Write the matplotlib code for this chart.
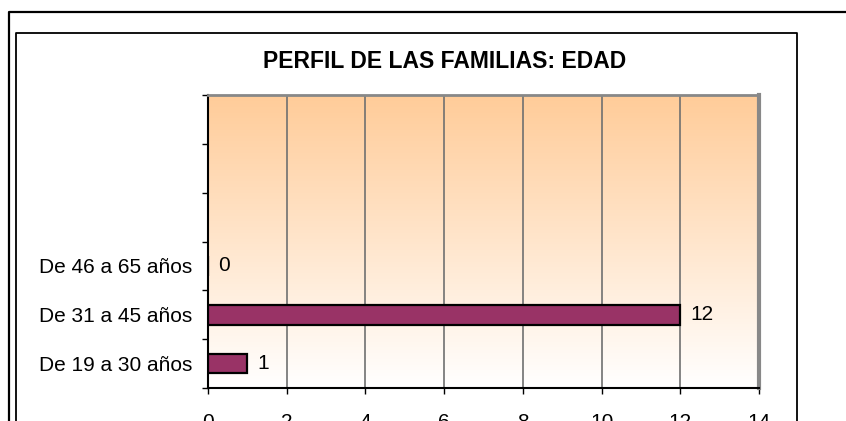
import matplotlib.pyplot as plt
import numpy as np
from matplotlib.lines import Line2D
from matplotlib.colors import LinearSegmentedColormap

plt.rcParams['font.family'] = ['Liberation Sans', 'DejaVu Sans']

# datos del grafico
categorias = ["De 19 a 30 años", "De 31 a 45 años", "De 46 a 65 años"]
valores = [1, 12, 0]
n_huecos = 6  # filas del eje (las de arriba vacias)
x_ticks = [0, 2, 4, 6, 8, 10, 12, 14]
titulo = "PERFIL DE LAS FAMILIAS: EDAD"

W, H = 846, 421
fig = plt.figure(figsize=(W / 100, H / 100), dpi=100)
fig.patch.set_facecolor('white')

def px(x, y):
    # pixeles (origen arriba-izquierda) a fraccion de figura
    return x / W, 1 - y / H

# marcos exteriores
x0, y0 = px(9, 12)
fig.add_artist(Line2D([x0, x0, 1.0], [0, y0, y0], color='black', lw=1.6))
x1, y1 = px(16, 33)
x2, _ = px(797, 33)
fig.add_artist(Line2D([x1, x1, x2, x2], [0, y1, y1, 0], color='black', lw=1.3))

# area del grafico
left, top = px(208, 95)
right, bottom = px(759, 388)
ax = fig.add_axes([left, bottom, right - left, top - bottom])

# fondo degradado melocoton -> blanco
cmap = LinearSegmentedColormap.from_list('fondo', ['#FFFFFF', '#FFCC99'])
grad = np.linspace(0, 1, 256).reshape(-1, 1)
ax.imshow(grad, cmap=cmap, origin='lower', aspect='auto',
          extent=[0, 14, -0.5, n_huecos - 0.5], zorder=0)

y = np.arange(len(categorias))
ax.barh(y, valores, height=0.4, color='#993366', edgecolor='black',
        linewidth=1.6, zorder=3)

for yi, v in zip(y, valores):
    ax.annotate(str(v), (v, yi), xytext=(7, 0), textcoords='offset points',
                va='center', ha='left', fontsize=15, color='black')

ax.set_xlim(0, 14)
ax.set_ylim(-0.5, n_huecos - 0.5)
ax.set_xticks(x_ticks)
ax.set_yticks(np.arange(-0.5, n_huecos, 1.0))
ax.set_yticklabels([])
ax.set_yticks(y, minor=True)
ax.set_yticklabels(categorias, minor=True)
ax.tick_params(axis='y', which='major', length=4.3, width=1, direction='out')
ax.tick_params(axis='y', which='minor', length=0, pad=11, labelsize=15)
ax.tick_params(axis='x', length=4.3, width=1, direction='out', pad=14, labelsize=15)

ax.grid(axis='x', color='#707070', lw=1.2)
ax.set_axisbelow(True)
ax.grid(axis='y', visible=False)

for s in ['left', 'bottom']:
    ax.spines[s].set_color('black')
    ax.spines[s].set_linewidth(1.5)
ax.spines['top'].set_color('#888888')
ax.spines['top'].set_linewidth(2)
ax.spines['right'].set_color('#888888')
ax.spines['right'].set_linewidth(3)

tx, ty = px(445, 62)
fig.text(tx, ty, titulo, ha='center', va='center', fontsize=16.5,
         fontweight='bold')

fig.savefig('out.png', dpi=100)
